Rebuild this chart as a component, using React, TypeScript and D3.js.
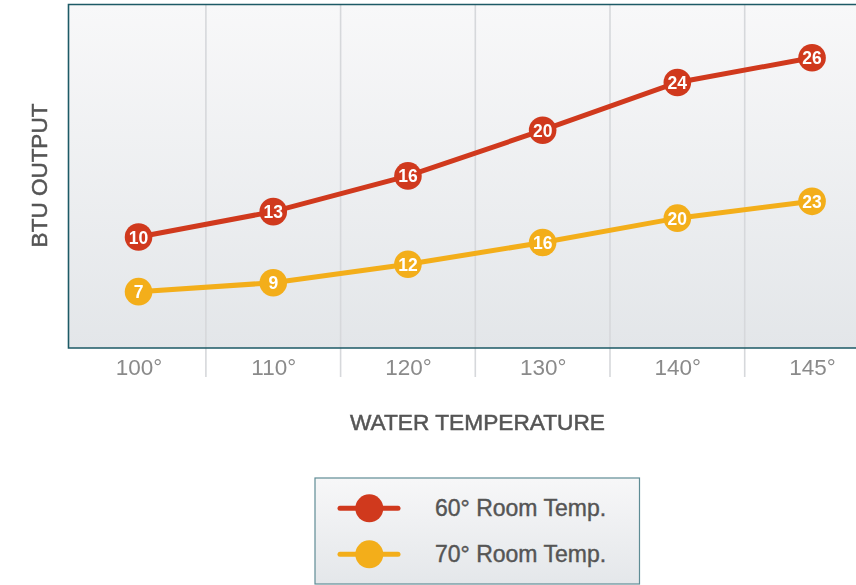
import React from "react";
import * as d3 from "d3";

const categories = ["100°", "110°", "120°", "130°", "140°", "145°"];
// Values printed in the markers
const room60Labels = [10, 13, 16, 20, 24, 26];
const room70Labels = [7, 9, 12, 16, 20, 23];
// Plotted heights (percent of the plot height)
const room60Heights = [32.3, 39.7, 50.1, 63.4, 77.3, 84.5];
const room70Heights = [16.4, 19.0, 24.4, 30.7, 37.8, 42.7];
const seriesNames = ["60° Room Temp.", "70° Room Temp."];

const W = 856;
const H = 585;
const RED = "#d0391d";
const YELLOW = "#f3ae1a";
const FONT = "'Liberation Sans', Arial, Helvetica, sans-serif";

export default function App() {
  const left = 68.5;
  const top = 4.5;
  const bottom = 348;
  const x = d3.scaleBand<string>().domain(categories).range([71.2, 71.2 + 6 * 134.7]).paddingInner(0).paddingOuter(0);
  const y = d3.scaleLinear().domain([0, 100]).range([bottom, top]);
  const cx = (c: string) => (x(c) as number) + x.bandwidth() / 2;

  const line = d3
    .line<number>()
    .x((_, i) => cx(categories[i]))
    .y((d) => y(d));

  const series = [
    { name: seriesNames[0], color: RED, heights: room60Heights, labels: room60Labels },
    { name: seriesNames[1], color: YELLOW, heights: room70Heights, labels: room70Labels },
  ];

  const grids = categories.slice(1).map((c) => x(c) as number);

  return (
    <svg
      width={W}
      height={H}
      style={{ position: "fixed", left: 0, top: 0, display: "block" }}
      fontFamily={FONT}
    >
      <defs>
        <linearGradient id="plotBg" x1="0" y1="0" x2="0" y2="1">
          <stop offset="0%" stopColor="#f8f8f9" />
          <stop offset="100%" stopColor="#e3e6e9" />
        </linearGradient>
        <linearGradient id="legBg" x1="0" y1="0" x2="0" y2="1">
          <stop offset="0%" stopColor="#f7f7f8" />
          <stop offset="100%" stopColor="#e4e7ea" />
        </linearGradient>
      </defs>
      <rect x={left} y={top} width={W - left + 5} height={bottom - top} fill="url(#plotBg)" />
      {grids.map((gx, i) => (
        <line key={i} x1={gx} x2={gx} y1={top} y2={377} stroke="#d6d8db" strokeWidth={1.6} />
      ))}
      <path
        d={`M${W + 5},${top}H${left}V${bottom}H${W + 5}`}
        fill="none"
        stroke="#1d5a66"
        strokeWidth={1.6}
      />
      {categories.map((c) => (
        <text
          key={c}
          x={cx(c) + 0.5}
          y={367}
          textAnchor="middle"
          dominantBaseline="central"
          fontSize={22.5}
          fill="#8a8a8a"
        >
          {c}
        </text>
      ))}
      {series.map((s) => (
        <g key={s.name}>
          <path d={line(s.heights) || ""} fill="none" stroke={s.color} strokeWidth={5} />
          {s.heights.map((v, i) => (
            <g key={i}>
              <circle cx={cx(categories[i])} cy={y(v)} r={13.8} fill={s.color} />
              <text
                x={cx(categories[i])}
                y={y(v) + 0.5}
                textAnchor="middle"
                dominantBaseline="central"
                fontSize={17.5}
                fontWeight="bold"
                fill="#ffffff"
              >
                {s.labels[i]}
              </text>
            </g>
          ))}
        </g>
      ))}
      <text x={477.5} y={430} textAnchor="middle" fontSize={22.7} fill="#555555" stroke="#555555" strokeWidth={0.5}>
        WATER TEMPERATURE
      </text>
      <text
        transform="translate(46.5,175.5) rotate(-90)"
        textAnchor="middle"
        fontSize={22.5}
        fill="#555555"
        stroke="#555555"
        strokeWidth={0.5}
      >
        BTU OUTPUT
      </text>
      <rect x={315} y={478} width={324.5} height={106} fill="url(#legBg)" stroke="#5f8c95" strokeWidth={1.2} />
      {series.map((s, i) => {
        const ly = 508.3 + i * 46;
        return (
          <g key={s.name}>
            <line x1={340} x2={398} y1={ly} y2={ly} stroke={s.color} strokeWidth={5} strokeLinecap="round" />
            <circle cx={369.3} cy={ly} r={14} fill={s.color} />
            <text
              x={435}
              y={ly}
              dominantBaseline="central"
              fontSize={23}
              fill="#555555"
              stroke="#555555"
              strokeWidth={0.4}
            >
              {s.name}
            </text>
          </g>
        );
      })}
    </svg>
  );
}
